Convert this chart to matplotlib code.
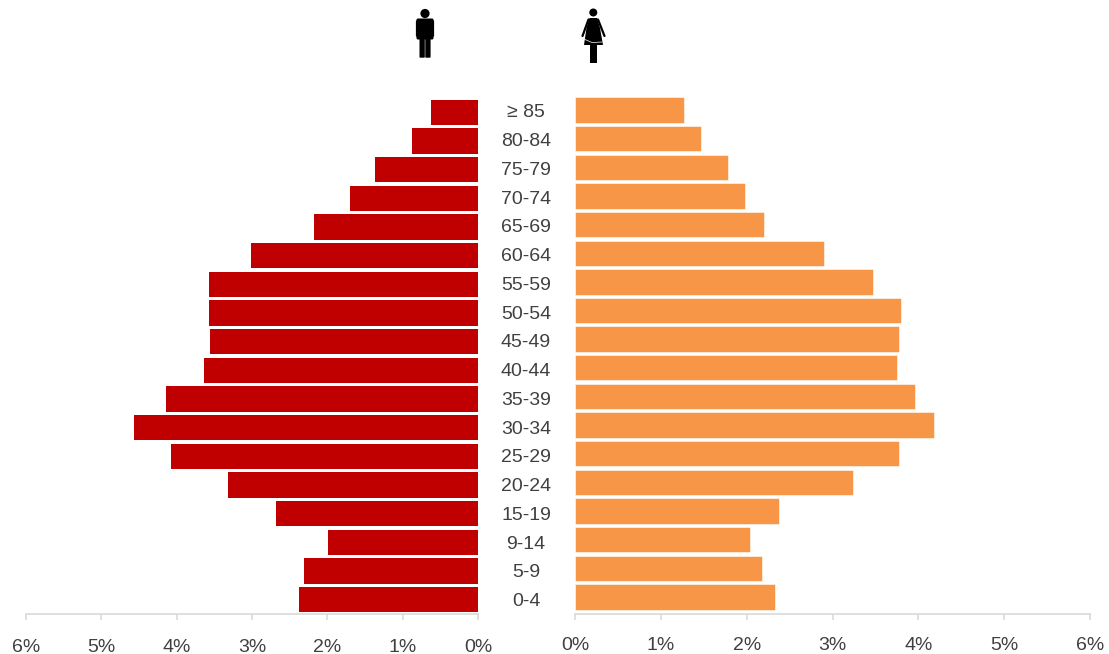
import matplotlib
matplotlib.use("Agg")
import matplotlib.pyplot as plt
from matplotlib.patches import Circle, Polygon, Rectangle, FancyBboxPatch
import numpy as np

plt.rcParams['font.family'] = ['Liberation Sans', 'DejaVu Sans']

ages = ['0-4', '5-9', '9-14', '15-19', '20-24', '25-29', '30-34', '35-39', '40-44',
        '45-49', '50-54', '55-59', '60-64', '65-69', '70-74', '75-79', '80-84', '≥ 85']
men = [2.38, 2.31, 1.99, 2.68, 3.32, 4.08, 4.57, 4.14, 3.64,
       3.56, 3.57, 3.57, 3.01, 2.18, 1.70, 1.37, 0.88, 0.62]
women = [2.33, 2.18, 2.04, 2.38, 3.24, 3.78, 4.18, 3.96, 3.75,
         3.78, 3.80, 3.47, 2.90, 2.20, 1.98, 1.78, 1.47, 1.27]
ticks = [0, 1, 2, 3, 4, 5, 6]

W, H = 1109, 654
GREY = '#404040'
LINE = '#d9d9d9'


def px_axes(fig, x0, x1, y_top, y_bottom):
    # axes placed by pixel position, y measured from the top of the image
    return fig.add_axes([x0 / W, 1 - y_bottom / H, (x1 - x0) / W, (y_bottom - y_top) / H])


def style_axis(ax, pad):
    for side in ['top', 'left', 'right']:
        ax.spines[side].set_visible(False)
    ax.spines['bottom'].set_color(LINE)
    ax.spines['bottom'].set_linewidth(1.2)
    ax.set_yticks([])
    ax.set_xticks(ticks)
    ax.set_xticklabels([f'{t}%' for t in ticks])
    ax.tick_params(axis='x', length=4.5, width=1.2, color=LINE, labelcolor=GREY,
                   labelsize=14, pad=pad)
    ax.patch.set_alpha(0)


fig = plt.figure(figsize=(W / 100, H / 100), dpi=100)
y = np.arange(len(ages))
pitch = 28.65

left = px_axes(fig, 26, 478, 90, 614)
left.barh(y, men, height=0.885, color='#c00000')
left.set_xlim(6, 0)
left.set_ylim(-14.5 / pitch, (599.5 - 90) / pitch)
style_axis(left, 13.5)

right = px_axes(fig, 575, 1090, 90, 614)
right.barh(y, women, height=0.885, color='#f79646', edgecolor='white', linewidth=0.4)
right.set_xlim(0, 6)
right.set_ylim(-17 / pitch, (597 - 90) / pitch)
style_axis(right, 12)

mid = px_axes(fig, 478, 575, 90, 614)
mid.axis('off')
mid.set_xlim(0, 1)
mid.set_ylim(-14 / 28.76, (600 - 90) / 28.76)
for i, label in enumerate(ages):
    mid.text(0.495, i - 0.06, label, ha='center', va='center', fontsize=14, color=GREY)

# the two pictograms, drawn in image pixels
icons = fig.add_axes([0, 0, 1, 1])
icons.set_xlim(0, W)
icons.set_ylim(H, 0)
icons.axis('off')
icons.patch.set_alpha(0)

icons.add_patch(Circle((425, 13.5), 4.6, color='black', lw=0))
icons.add_patch(FancyBboxPatch((418, 20), 14, 18, boxstyle='round,pad=1.5', color='black', lw=0))
icons.add_patch(FancyBboxPatch((416.5, 21), 1.8, 15, boxstyle='round,pad=0.6', color='black', lw=0))
icons.add_patch(FancyBboxPatch((431.7, 21), 1.8, 15, boxstyle='round,pad=0.6', color='black', lw=0))
icons.add_patch(FancyBboxPatch((420.2, 36), 3.9, 21, boxstyle='round,pad=0.7', color='black', lw=0))
icons.add_patch(FancyBboxPatch((426, 36), 3.9, 21, boxstyle='round,pad=0.7', color='black', lw=0))

icons.add_patch(Circle((593.3, 12.5), 4.0, color='black', lw=0))
icons.add_patch(Polygon([(589.5, 18), (597, 18), (600, 28), (603, 45), (584, 45), (586.5, 28)],
                        closed=True, color='black', lw=0))
icons.plot([588.5, 582.5], [19.5, 36], color='black', lw=1.6, solid_capstyle='round')
icons.plot([598, 604.5], [19.5, 36], color='black', lw=1.6, solid_capstyle='round')
icons.plot([585, 592, 602], [39.5, 42.5, 42], color='white', lw=0.5)
icons.add_patch(Rectangle((590.3, 44), 6.2, 18.5, color='black', lw=0))

fig.savefig('out.png', dpi=100, facecolor='white')
